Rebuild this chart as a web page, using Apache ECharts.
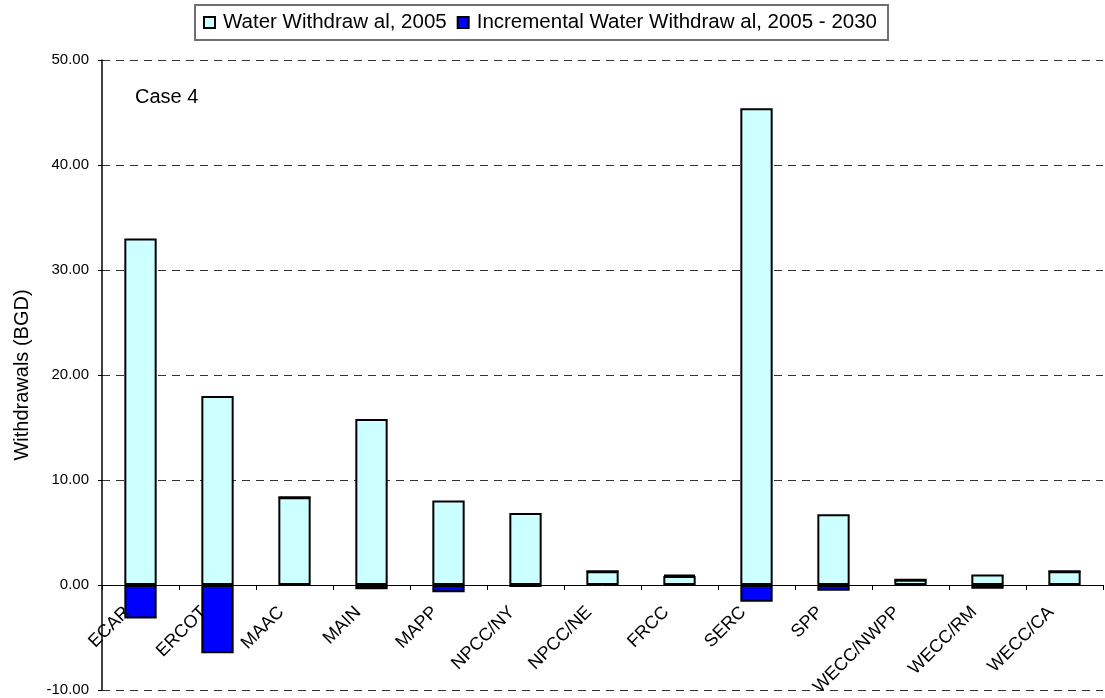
<!DOCTYPE html>
<html>
<head>
<meta charset="utf-8">
<script src="https://cdn.jsdelivr.net/npm/echarts@6/dist/echarts.min.js"></script>
<style>html,body{margin:0;padding:0;background:#fff}#c{width:1105px;height:698px}</style>
</head>
<body>
<div id="c"></div>
<script>
const categories = ['ECAR','ERCOT','MAAC','MAIN','MAPP','NPCC/NY','NPCC/NE','FRCC','SERC','SPP','WECC/NWPP','WECC/RM','WECC/CA'];
const withdrawal2005 = [33.0, 18.0, 8.35, 15.8, 8.05, 6.85, 1.3, 0.85, 45.4, 6.75, 0.5, 1.0, 1.3];
const incremental = [-3.2, -6.5, 0, -0.4, -0.7, -0.2, 0, 0.12, -1.6, -0.55, 0, -0.35, 0];
const seriesNames = ['Water Withdraw al, 2005', 'Incremental Water Withdraw al, 2005 - 2030'];
const yTicks = {min: -10, max: 50, interval: 10};

const font = '"Liberation Sans", Arial, sans-serif';
const W = 1105, H = 698;
const gridTop = 60, gridBottom = 8;
const plotH = H - gridTop - gridBottom;
// labels sit at the zero line: shift the label axis up from the bottom edge
const zeroOffset = -plotH * (0 - yTicks.min) / (yTicks.max - yTicks.min);

const chart = echarts.init(document.getElementById('c'));
chart.setOption({
  animation: false,
  textStyle: {fontFamily: font},
  grid: {left: 102, right: 2, top: gridTop, bottom: gridBottom, containLabel: false, outerBoundsMode: 'none'},
  legend: {
    left: 195, top: 5,
    padding: [7, 11, 7, 8],
    borderColor: '#707070', borderWidth: 2,
    itemWidth: 11, itemHeight: 11, itemGap: 10,
    icon: 'rect',
    textStyle: {fontFamily: font, fontSize: 20.5, color: '#000', padding: [0,0,0,3]},
    data: seriesNames
  },
  graphic: [{type: 'text', left: 135, top: 87, style: {text: 'Case 4', font: '20px ' + font, fill: '#000'}}],
  xAxis: [{
    type: 'category', data: categories,
    axisLine: {onZero: true, lineStyle: {color: '#000', width: 1}},
    axisTick: {show: true, interval: 0, length: 5, lineStyle: {color: '#000'}},
    axisLabel: {show: false}
  }, {
    type: 'category', data: categories, position: 'bottom', offset: zeroOffset,
    axisLine: {show: false}, axisTick: {show: false}, splitLine: {show: false},
    axisLabel: {interval: 0, rotate: 45, fontSize: 18, color: '#000', fontFamily: font, margin: 11, padding: [0, 19, 0, 0]},
    z: 10
  }],
  yAxis: {
    type: 'value', min: yTicks.min, max: yTicks.max, interval: yTicks.interval,
    name: 'Withdrawals (BGD)', nameLocation: 'middle', nameGap: 70,
    nameTextStyle: {fontSize: 20, color: '#000', fontFamily: font},
    axisLine: {show: true, lineStyle: {color: '#000', width: 1.5}},
    axisTick: {show: true, length: 4, lineStyle: {color: '#000'}},
    axisLabel: {fontSize: 15, color: '#000', fontFamily: font, margin: 13, formatter: v => v.toFixed(2)},
    splitLine: {show: true, lineStyle: {color: '#333', type: [8, 6], width: 1}}
  },
  series: [
    {name: seriesNames[0], type: 'bar', stack: 's', data: withdrawal2005, barWidth: '42%', xAxisIndex: 0,
     itemStyle: {color: '#CCFFFF', borderColor: '#000', borderWidth: 2}},
    {name: seriesNames[1], type: 'bar', stack: 's', data: incremental, barWidth: '42%', xAxisIndex: 0,
     itemStyle: {color: '#0000FF', borderColor: '#000', borderWidth: 2}}
  ]
});
</script>
</body>
</html>
